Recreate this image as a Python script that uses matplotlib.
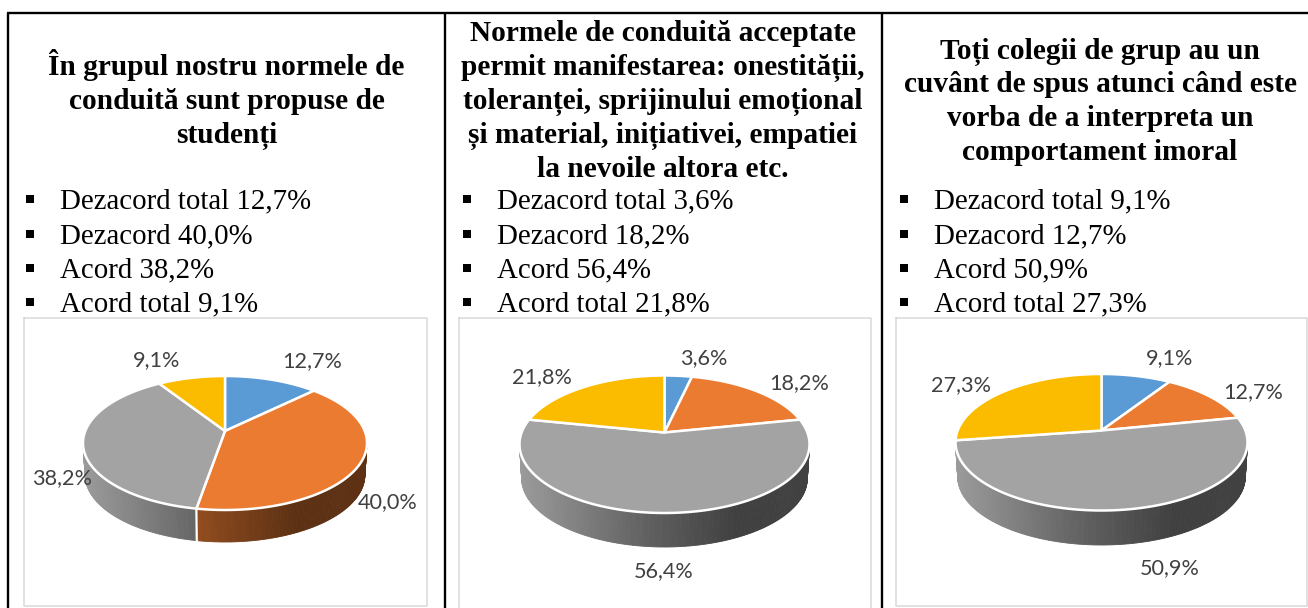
import numpy as np
import matplotlib
matplotlib.use("Agg")
import matplotlib.pyplot as plt

categories = ["Dezacord total", "Dezacord", "Acord", "Acord total"]
values1 = [12.7, 40.0, 38.2, 9.1]
values2 = [3.6, 18.2, 56.4, 21.8]
values3 = [9.1, 12.7, 50.9, 27.3]

titles1 = ["În grupul nostru normele de", "conduită sunt propuse de", "studenți"]
titles2 = ["Normele de conduită acceptate", "permit manifestarea: onestității,",
           "toleranței, sprijinului emoțional", "și material, inițiativei, empatiei",
           "la nevoile altora etc."]
titles3 = ["Toți colegii de grup au un", "cuvânt de spus atunci când este",
           "vorba de a interpreta un", "comportament imoral"]

colors = ["#5B9BD5", "#EB7B31", "#A3A3A3", "#FBBC00"]

# layout of each cell, in pixels
panels = [
    dict(values=values1, titles=titles1, title_x=226.5, title_y=[75, 109, 143],
         text_x=60, bullet_x=29.5, box=(24, 318, 426.5, 606),
         pie=(225, 431, 83, 367, 376, 510, 32),
         labels=[(312, 361), (388, 502), (62, 478), (157, 360)]),
    dict(values=values2, titles=titles2, title_x=663, title_y=[41, 75, 109, 143, 177],
         text_x=497, bullet_x=466.5, box=(459, 318, 870.5, 615),
         pie=(664.5, 432.5, 519, 809, 375.5, 513, 34),
         labels=[(704, 358), (799, 383), (664, 571), (542, 377)]),
    dict(values=values3, titles=titles3, title_x=1100, title_y=[59, 92, 126, 160],
         text_x=934, bullet_x=903.5, box=(895.5, 318, 1307, 606),
         pie=(1101.5, 430.5, 955, 1247, 374, 510.5, 34.5),
         labels=[(1170, 358), (1253, 392), (1170, 568), (961, 385)]),
]
list_y = [208, 243, 277, 311]


def project(theta, pie):
    # circle seen in perspective, theta clockwise from the top
    cx, cy, left, right, top, bottom, depth = pie
    up = cy - top
    down = bottom - cy
    ry = 2 * up * down / (up + down)
    a = ry / up - 1
    rx = (right - left) / 2 * np.sqrt(1 - a * a)
    u = np.sin(theta)
    v = np.cos(theta)
    s = 1 / (1 + a * v)
    return cx + rx * u * s, cy - ry * v * s


def shade(f):
    return np.interp(f, [0, 0.4, 0.5, 0.75, 1], [0.95, 0.62, 0.55, 0.39, 0.40])


def draw_pie(ax, values, pie):
    cx, cy, left, right, top, bottom, depth = pie
    total = sum(values)
    edges = np.cumsum([0] + list(values)) / total * 2 * np.pi
    shrink = 0.985

    # wall first, in thin strips so it gets the gradient
    for i, c in enumerate(colors):
        th = np.linspace(edges[i], edges[i + 1], max(int(values[i] * 4), 2))
        x, y = project(th, pie)
        xb = cx + (x - cx) * shrink
        base = np.array(matplotlib.colors.to_rgb(c))
        for j in range(len(th) - 1):
            # back part of the rim is hidden
            if np.cos(th[j]) > -0.17:
                continue
            f = ((x[j] + x[j + 1]) / 2 - left) / (right - left)
            col = base * shade(f)
            ax.fill([x[j], x[j + 1], xb[j + 1], xb[j]],
                    [y[j], y[j + 1], y[j + 1] + depth, y[j] + depth],
                    color=col, lw=0.6, zorder=2)

    # white seam between wall segments
    for e in edges[:-1]:
        if np.cos(e) < -0.17:
            x, y = project(np.array([e]), pie)
            ax.plot([x[0], cx + (x[0] - cx) * shrink], [y[0], y[0] + depth],
                    color="white", lw=1.6, zorder=3)

    # top face
    for i, c in enumerate(colors):
        th = np.linspace(edges[i], edges[i + 1], 200)
        x, y = project(th, pie)
        ax.fill(np.r_[cx, x], np.r_[cy, y], facecolor=c, edgecolor="white",
                lw=1.8, joinstyle="round", zorder=4)


fig = plt.figure(figsize=(13.08, 6.08), dpi=100)
ax = fig.add_axes([0, 0, 1, 1])
ax.set_xlim(0, 1308)
ax.set_ylim(608, 0)
ax.axis("off")

# table lines
for lx in [8, 445, 882]:
    ax.plot([lx, lx], [13, 620], color="black", lw=1.7, solid_capstyle="butt", zorder=1)
ax.plot([7, 1308], [13, 13], color="black", lw=1.7, solid_capstyle="butt", zorder=1)

for p in panels:
    for s, ty in zip(p["titles"], p["title_y"]):
        ax.text(p["title_x"], ty, s, family="Liberation Serif", weight="bold", fontsize=21.2,
                ha="center", va="baseline", color="black")
    for cat, val, ly in zip(categories, p["values"], list_y):
        ax.text(p["text_x"], ly, cat + " " + f"{val:.1f}".replace(".", ",") + "%",
                family="Liberation Serif", fontsize=20.8, ha="left", va="baseline", color="black")
        ax.plot([p["bullet_x"]], [ly - 9.5], marker="s", ms=6.2, color="black", mew=0)

    x0, y0, x1, y1 = p["box"]
    ax.plot([x0, x1, x1, x0, x0], [y0, y0, y1, y1, y0], color="#D9D9D9", lw=1.1, zorder=1.5)

    draw_pie(ax, p["values"], p["pie"])

    for val, (tx, ty) in zip(p["values"], p["labels"]):
        ax.text(tx, ty, f"{val:.1f}".replace(".", ",") + "%", family="Lato", fontsize=15.6,
                ha="center", va="center", color="#404040", zorder=6)

fig.savefig("out.png", dpi=100)
